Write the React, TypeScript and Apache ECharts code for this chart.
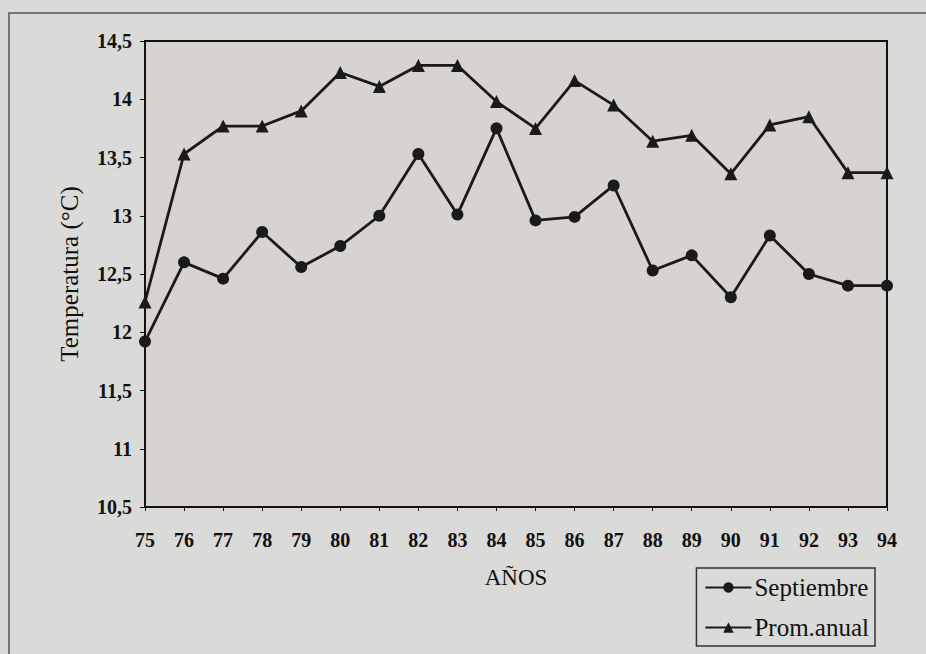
import React, { useEffect, useRef } from "react";
import * as echarts from "echarts";

const years = ["75","76","77","78","79","80","81","82","83","84","85","86","87","88","89","90","91","92","93","94"];
const septiembre = [11.92,12.6,12.46,12.86,12.56,12.74,13.0,13.53,13.01,13.75,12.96,12.99,13.26,12.53,12.66,12.3,12.83,12.5,12.4,12.4];
const promAnual = [12.26,13.53,13.77,13.77,13.9,14.23,14.11,14.29,14.29,13.98,13.75,14.16,13.95,13.64,13.69,13.36,13.78,13.85,13.37,13.37];

export default function App() {
  const ref = useRef<HTMLDivElement>(null);
  useEffect(() => {
    const chart = echarts.init(ref.current!, null, { renderer: "svg" });
    const font = "Liberation Serif";
    chart.setOption({
      animation: false,
      backgroundColor: "#dadad8",
      textStyle: { fontFamily: font },
      graphic: [
        { type: "rect", shape: { x: 9, y: 13, width: 940, height: 660 }, style: { fill: "none", stroke: "#555", lineWidth: 1.5 } },
      ],
      grid: { left: 145, right: 39, top: 41, bottom: 147, show: true, borderColor: "#111", borderWidth: 2, backgroundColor: "#d7d3d1" },
      legend: {
        orient: "vertical",
        right: 51,
        top: 568,
        itemWidth: 46,
        itemHeight: 13,
        itemGap: 15,
        padding: [7, 6, 6, 8],
        borderColor: "#333",
        borderWidth: 1.5,
        textStyle: { fontFamily: font, fontSize: 25, color: "#111", padding: [0, 0, 0, -2] },
        data: ["Septiembre", "Prom.anual"],
      },
      xAxis: {
        type: "category",
        data: years,
        boundaryGap: false,
        name: "AÑOS",
        nameLocation: "middle",
        nameGap: 59,
        nameTextStyle: { fontFamily: font, fontSize: 23, color: "#111" },
        axisLine: { lineStyle: { color: "#111", width: 2 } },
        axisTick: { show: true, length: 4, lineStyle: { color: "#111" } },
        axisLabel: { fontFamily: font, fontSize: 20, fontWeight: "bold", color: "#111", margin: 23 },
      },
      yAxis: {
        type: "value",
        min: 10.5,
        max: 14.5,
        interval: 0.5,
        name: "Temperatura (°C)",
        nameLocation: "middle",
        nameGap: 63,
        nameTextStyle: { fontFamily: font, fontSize: 25, color: "#111" },
        splitLine: { show: false },
        axisLine: { show: true, lineStyle: { color: "#111", width: 2 } },
        axisTick: { show: true, length: 5, lineStyle: { color: "#111" } },
        axisLabel: {
          fontFamily: font, fontSize: 20, fontWeight: "bold", color: "#111", margin: 13,
          formatter: (v: number) => String(v).replace(".", ","),
        },
      },
      series: [
        {
          name: "Septiembre", type: "line", data: septiembre,
          symbol: "circle", symbolSize: 12,
          lineStyle: { color: "#1a1a1a", width: 2.8 },
          itemStyle: { color: "#1a1a1a" },
        },
        {
          name: "Prom.anual", type: "line", data: promAnual,
          symbol: "triangle", symbolSize: 13,
          lineStyle: { color: "#1a1a1a", width: 2.8 },
          itemStyle: { color: "#1a1a1a" },
        },
      ],
    });
    return () => chart.dispose();
  }, []);
  return <div ref={ref} style={{ width: 926, height: 654, position: "absolute", left: 0, top: 0 }} />;
}
